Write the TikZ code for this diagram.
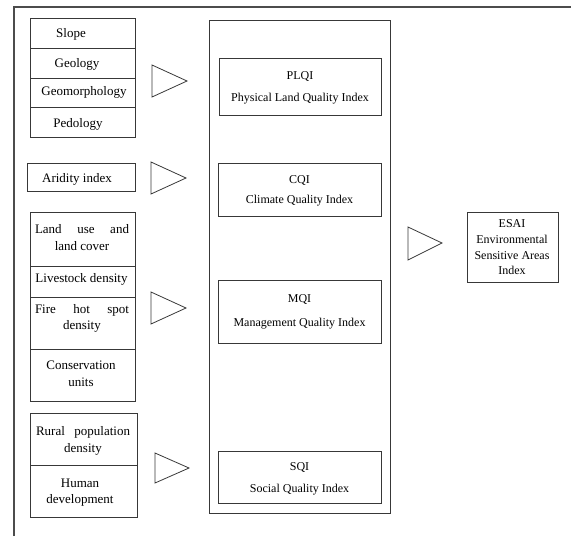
\documentclass[tikz,border=0pt]{standalone}
\usepackage{fontspec}
\setmainfont{Liberation Serif}
\begin{document}
\begin{tikzpicture}[x=1pt,y=-1pt,
  ln/.style={draw=black!78, line width=0.9pt},
  cell/.style={ln, rectangle, inner sep=0pt, anchor=north west},
  lt/.style={inner sep=0pt, yshift=-2pt, font=\fontsize{13}{16.5}\selectfont, align=center},
  mt/.style={inner sep=0pt, yshift=-2pt, font=\fontsize{12}{15}\selectfont, align=center},
  tri/.style={draw=black!78, line width=0.8pt, line join=miter}
]
\useasboundingbox (0,0) rectangle (572,536);
% outer frame lines
\draw[draw=black!70, line width=1.1pt] (14,536) -- (14,7) -- (571,7);

% group 1
\node[cell, minimum width=105pt, minimum height=30pt] (c1) at (30,18) {};
\node[cell, minimum width=105pt, minimum height=30pt] (c2) at (30,48) {};
\node[cell, minimum width=105pt, minimum height=29pt] (c3) at (30,78) {};
\node[cell, minimum width=105pt, minimum height=30pt] (c4) at (30,107) {};
\node[lt] (t1) at (71,32) {Slope};
\node[lt] (t2) at (77,62) {Geology};
\node[lt] (t3) at (84,90) {Geomorphology};
\node[lt] (t4) at (78,122) {Pedology};

% aridity
\node[cell, minimum width=108pt, minimum height=28pt] (c5) at (27,163) {};
\node[lt] (t5) at (77,177) {Aridity index};

% group 3
\node[cell, minimum width=105pt, minimum height=54pt] (c6) at (30,212) {};
\node[cell, minimum width=105pt, minimum height=31pt] (c7) at (30,266) {};
\node[cell, minimum width=105pt, minimum height=52pt] (c8) at (30,297) {};
\node[cell, minimum width=105pt, minimum height=52pt] (c9) at (30,349) {};
\node[lt] (t6) at (82,235.5) {\makebox[94pt][s]{Land use and}\\land cover};
\node[lt] (t7) at (81.5,277) {Livestock density};
\node[lt] (t8) at (82,316.5) {\makebox[94pt][s]{Fire hot spot}\\density};
\node[lt] (t9) at (81,372) {Conservation\\units};

% group 4
\node[cell, minimum width=107pt, minimum height=52pt] (c10) at (30,413) {};
\node[cell, minimum width=107pt, minimum height=52pt] (c11) at (30,465) {};
\node[lt] (t10) at (83,439) {\makebox[94pt][s]{Rural population}\\density};
\node[lt] (t11) at (80,490.5) {Human\\development};

% triangles
\draw[tri] (152,65) -- (187,81) -- (152,97) -- cycle;
\draw[tri] (151,162) -- (186,178) -- (151,194) -- cycle;
\draw[tri] (151,292) -- (186,308) -- (151,324) -- cycle;
\draw[tri] (155,453) -- (189,468) -- (155,483) -- cycle;
\draw[tri] (408,227) -- (442,243) -- (408,260) -- cycle;

% middle frame
\node[cell, minimum width=181pt, minimum height=493pt] (frame) at (209,20) {};
\node[cell, minimum width=162pt, minimum height=57pt] (plqi) at (219,58) {};
\node[cell, minimum width=163pt, minimum height=53pt] (cqi) at (218,163) {};
\node[cell, minimum width=163pt, minimum height=63pt] (mqi) at (218,280) {};
\node[cell, minimum width=163pt, minimum height=52pt] (sqi) at (218,451) {};
\node[mt] (tp) at (300,86) {PLQI\\[7pt]Physical Land Quality Index};
\node[mt] (tc) at (299.5,189) {CQI\\[5pt]Climate Quality Index};
\node[mt] (tm) at (299.5,310) {MQI\\[9pt]Management Quality Index};
\node[mt] (ts) at (299.5,477) {SQI\\[7pt]Social Quality Index};

% ESAI
\node[cell, minimum width=91pt, minimum height=70pt] (esai) at (467,212) {};
\node[mt, yshift=1pt, font=\fontsize{12}{15.7}\selectfont] (te) at (512,246.5) {ESAI\\Environmental\\Sensitive Areas\\Index};
\end{tikzpicture}
\end{document}
